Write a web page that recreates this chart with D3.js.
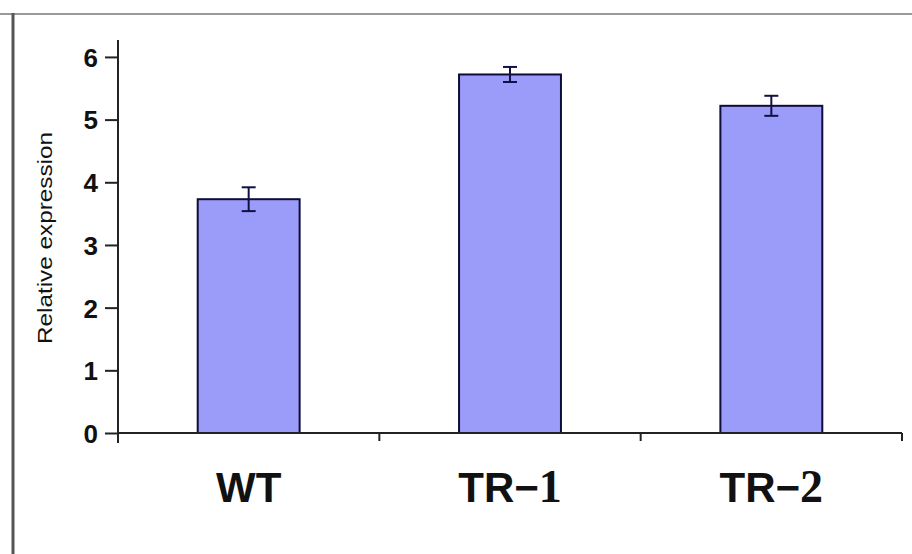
<!DOCTYPE html>
<html>
<head>
<meta charset="utf-8">
<script src="https://cdn.jsdelivr.net/npm/d3@7"></script>
<style>
  html, body { margin: 0; padding: 0; background: #fff; }
  svg { display: block; }
  .serif { font-family: "Liberation Serif", "DejaVu Serif", serif; }
</style>
</head>
<body>
<svg id="chart" width="912" height="554"></svg>
<script>
// chart data
var categories = ["WT", "TR-1", "TR-2"],
    values = [3.73, 5.72, 5.22],
    errors = [0.19, 0.12, 0.16],
    yTicks = [0, 1, 2, 3, 4, 5, 6];

var svg = d3.select("#chart"),
    plotLeft = 118, plotRight = 902,
    plotTop = 40, plotBottom = 433,
    barFill = "#9b9bf9",
    barStroke = "#0d0d3a";

// outer frame (only left and top show in the picture)
svg.append("line")
    .attr("x1", 0).attr("x2", 912)
    .attr("y1", 14).attr("y2", 14)
    .attr("stroke", "#9a9a9a").attr("stroke-width", 2);
svg.append("line")
    .attr("x1", 13).attr("x2", 13)
    .attr("y1", 13).attr("y2", 554)
    .attr("stroke", "#555").attr("stroke-width", 3);

var x = d3.scaleBand()
    .domain(categories)
    .range([plotLeft, plotRight])
    .paddingInner(0.61)
    .paddingOuter(0.305);

var y = d3.scaleLinear()
    .domain([0, 6.27])
    .range([plotBottom, plotTop]);

// bars
var g = svg.append("g");
g.selectAll("rect.bar")
    .data(categories)
    .enter().append("rect")
    .attr("class", "bar")
    .attr("x", function(d) { return x(d); })
    .attr("width", x.bandwidth())
    .attr("y", function(d, i) { return y(values[i]); })
    .attr("height", function(d, i) { return y(0) - y(values[i]); })
    .attr("fill", barFill)
    .attr("stroke", barStroke)
    .attr("stroke-width", 2);

// error bars
var eb = g.selectAll("g.err")
    .data(categories)
    .enter().append("g")
    .attr("class", "err")
    .attr("stroke", "#111144")
    .attr("stroke-width", 2);
eb.append("line")
    .attr("x1", function(d) { return x(d) + x.bandwidth() / 2; })
    .attr("x2", function(d) { return x(d) + x.bandwidth() / 2; })
    .attr("y1", function(d, i) { return y(values[i] + errors[i]); })
    .attr("y2", function(d, i) { return y(values[i] - errors[i]); });
[1, -1].forEach(function(s) {
    eb.append("line")
        .attr("x1", function(d) { return x(d) + x.bandwidth() / 2 - 7; })
        .attr("x2", function(d) { return x(d) + x.bandwidth() / 2 + 7; })
        .attr("y1", function(d, i) { return y(values[i] + s * errors[i]); })
        .attr("y2", function(d, i) { return y(values[i] + s * errors[i]); });
});

// y axis
var yAxis = svg.append("g")
    .attr("transform", "translate(" + plotLeft + ",0)")
    .call(d3.axisLeft(y).tickValues(yTicks).tickFormat(d3.format("d"))
        .tickSize(13).tickPadding(7).tickSizeOuter(0));
yAxis.select(".domain").attr("stroke", "#222").attr("stroke-width", 2)
    .attr("d", "M0," + plotTop + "V" + (plotBottom + 10));
yAxis.selectAll(".tick line").attr("stroke", "#222").attr("stroke-width", 2);
yAxis.selectAll(".tick text")
    .attr("font-family", "Liberation Sans, Arial, sans-serif")
    .attr("font-weight", "bold")
    .attr("font-size", 26)
    .attr("fill", "#111")
    .attr("dy", "0.36em");

// x axis
svg.append("line")
    .attr("x1", plotLeft).attr("x2", plotRight)
    .attr("y1", plotBottom).attr("y2", plotBottom)
    .attr("stroke", "#222").attr("stroke-width", 2);
svg.selectAll("line.xtick")
    .data(categories)
    .enter().append("line")
    .attr("class", "xtick")
    .attr("x1", function(d) { return x(d) - x.step() * x.paddingOuter() + x.step(); })
    .attr("x2", function(d) { return x(d) - x.step() * x.paddingOuter() + x.step(); })
    .attr("y1", plotBottom).attr("y2", plotBottom + 8)
    .attr("stroke", "#222").attr("stroke-width", 2);

// category labels, digits in a serif face like the picture
var lab = svg.selectAll("text.cat")
    .data(categories)
    .enter().append("text")
    .attr("class", "cat")
    .attr("x", function(d) { return x(d) + x.bandwidth() / 2; })
    .attr("y", 502)
    .attr("text-anchor", "middle")
    .style("font-family", "'Liberation Sans', Arial, sans-serif")
    .attr("font-weight", "bold")
    .attr("font-size", 42)
    .attr("fill", "#111");
lab.each(function(d) {
    var parts = d.split("-"),
        t = d3.select(this);
    t.append("tspan").text(parts[0]);
    if (parts.length > 1) {
        t.append("tspan").text("\u2212");
        t.append("tspan")
            .attr("class", "serif")
            .attr("font-size", 46)
            .text(parts[1]);
    }
});

// y axis title
svg.append("text")
    .attr("transform", "translate(52,238) rotate(-90)")
    .attr("text-anchor", "middle")
    .attr("font-family", "Liberation Sans, Arial, sans-serif")
    .attr("font-size", 21)
    .attr("textLength", 212)
    .attr("lengthAdjust", "spacingAndGlyphs")
    .attr("fill", "#111")
    .text("Relative expression");
</script>
</body>
</html>
